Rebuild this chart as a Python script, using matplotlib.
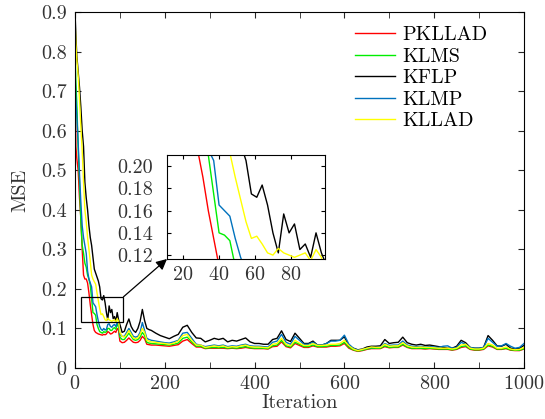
import matplotlib
matplotlib.use("Agg")
import matplotlib.pyplot as plt
from matplotlib.patches import Rectangle
from matplotlib.ticker import FixedLocator, FixedFormatter, MultipleLocator

plt.rcParams['font.family'] = ['cmr10', 'DejaVu Serif']
plt.rcParams['axes.formatter.use_mathtext'] = True
plt.rcParams['mathtext.fontset'] = 'cm'

iters = [0, 2, 4, 7, 10, 13, 16, 19, 22, 25, 28, 31, 34, 37, 40, 43, 46, 49, 52, 55,
         58, 61, 64, 67, 70, 73, 76, 79, 82, 85, 88, 91, 94, 97, 100, 105, 110, 115, 120, 125,
         130, 135, 140, 145, 150, 155, 160, 165, 170, 180, 190, 200, 210, 220, 230, 240, 250, 260, 270, 280,
         290, 300, 310, 320, 330, 340, 350, 360, 370, 380, 390, 400, 410, 420, 430, 440, 450, 460, 470, 480,
         490, 500, 510, 520, 530, 540, 550, 560, 570, 580, 590, 600, 610, 620, 630, 640, 650, 660, 670, 680,
         690, 700, 710, 720, 730, 740, 750, 760, 770, 780, 790, 800, 810, 820, 830, 840, 850, 860, 870, 880,
         890, 900, 910, 920, 930, 940, 950, 960, 970, 980, 990, 1000]

kflp = [0.90, 0.84, 0.79, 0.75, 0.71, 0.66, 0.60, 0.56, 0.47, 0.43, 0.40, 0.36, 0.33, 0.31, 0.28, 0.25, 0.24, 0.23, 0.22, 0.205,
        0.175, 0.172, 0.183, 0.165, 0.14, 0.122, 0.157, 0.14, 0.148, 0.125, 0.13, 0.118, 0.14, 0.122, 0.11, 0.09, 0.093, 0.11, 0.124, 0.105,
        0.095, 0.09, 0.10, 0.118, 0.148, 0.12, 0.10, 0.097, 0.095, 0.088, 0.082, 0.078, 0.074, 0.08, 0.085, 0.103, 0.108, 0.09, 0.076, 0.075,
        0.066, 0.07, 0.075, 0.072, 0.075, 0.066, 0.07, 0.068, 0.072, 0.076, 0.066, 0.062, 0.062, 0.06, 0.06, 0.072, 0.075, 0.094, 0.072, 0.067,
        0.088, 0.075, 0.062, 0.062, 0.068, 0.058, 0.058, 0.062, 0.07, 0.07, 0.07, 0.079, 0.055, 0.05, 0.046, 0.048, 0.053, 0.055, 0.055, 0.056,
        0.072, 0.062, 0.064, 0.065, 0.078, 0.064, 0.06, 0.058, 0.06, 0.057, 0.058, 0.056, 0.054, 0.052, 0.05, 0.05, 0.055, 0.07, 0.064, 0.052,
        0.05, 0.05, 0.052, 0.082, 0.07, 0.056, 0.055, 0.06, 0.05, 0.048, 0.05, 0.057]

klmp = [0.76, 0.68, 0.64, 0.57, 0.49, 0.42, 0.36, 0.33, 0.31, 0.29, 0.245, 0.225, 0.215, 0.205, 0.165, 0.16, 0.155, 0.135, 0.118, 0.105,
        0.098, 0.095, 0.10, 0.096, 0.098, 0.11, 0.112, 0.105, 0.103, 0.108, 0.11, 0.105, 0.115, 0.11, 0.085, 0.08, 0.08, 0.09, 0.10, 0.09,
        0.08, 0.078, 0.08, 0.09, 0.115, 0.095, 0.075, 0.072, 0.07, 0.068, 0.066, 0.064, 0.063, 0.066, 0.07, 0.088, 0.09, 0.075, 0.06, 0.058,
        0.054, 0.056, 0.058, 0.056, 0.058, 0.054, 0.056, 0.055, 0.058, 0.06, 0.056, 0.055, 0.055, 0.054, 0.053, 0.065, 0.068, 0.085, 0.065, 0.06,
        0.08, 0.07, 0.06, 0.06, 0.065, 0.058, 0.058, 0.062, 0.068, 0.068, 0.07, 0.083, 0.06, 0.05, 0.045, 0.047, 0.05, 0.052, 0.052, 0.053,
        0.062, 0.057, 0.058, 0.058, 0.068, 0.058, 0.055, 0.054, 0.055, 0.053, 0.054, 0.053, 0.052, 0.055, 0.056, 0.05, 0.052, 0.065, 0.06, 0.052,
        0.05, 0.05, 0.052, 0.075, 0.065, 0.055, 0.056, 0.062, 0.055, 0.05, 0.052, 0.062]

kllad = [0.88, 0.82, 0.78, 0.74, 0.68, 0.61, 0.55, 0.47, 0.40, 0.37, 0.33, 0.30, 0.27, 0.235, 0.225, 0.218, 0.212, 0.19, 0.17, 0.15,
         0.135, 0.137, 0.13, 0.122, 0.12, 0.126, 0.122, 0.12, 0.118, 0.12, 0.122, 0.115, 0.125, 0.118, 0.09, 0.08, 0.078, 0.085, 0.095, 0.085,
         0.076, 0.074, 0.076, 0.085, 0.10, 0.09, 0.07, 0.068, 0.066, 0.065, 0.063, 0.062, 0.06, 0.063, 0.068, 0.082, 0.085, 0.07, 0.058, 0.058,
         0.052, 0.054, 0.056, 0.054, 0.056, 0.052, 0.054, 0.053, 0.056, 0.058, 0.054, 0.053, 0.053, 0.052, 0.051, 0.06, 0.062, 0.075, 0.06, 0.056,
         0.07, 0.063, 0.057, 0.057, 0.062, 0.057, 0.057, 0.058, 0.06, 0.06, 0.062, 0.07, 0.056, 0.048, 0.044, 0.047, 0.05, 0.053, 0.052, 0.052,
         0.06, 0.055, 0.056, 0.056, 0.064, 0.056, 0.053, 0.052, 0.053, 0.052, 0.052, 0.051, 0.05, 0.05, 0.05, 0.048, 0.05, 0.058, 0.06, 0.05,
         0.048, 0.048, 0.05, 0.062, 0.058, 0.05, 0.05, 0.053, 0.048, 0.046, 0.047, 0.052]

klms = [0.80, 0.72, 0.67, 0.56, 0.47, 0.37, 0.31, 0.29, 0.265, 0.255, 0.235, 0.225, 0.21, 0.175, 0.14, 0.138, 0.133, 0.11, 0.10, 0.092,
        0.09, 0.088, 0.092, 0.09, 0.092, 0.10, 0.10, 0.095, 0.095, 0.10, 0.102, 0.098, 0.11, 0.105, 0.078, 0.072, 0.072, 0.08, 0.088, 0.08,
        0.072, 0.07, 0.072, 0.078, 0.09, 0.082, 0.065, 0.063, 0.062, 0.061, 0.06, 0.059, 0.058, 0.06, 0.063, 0.075, 0.078, 0.066, 0.055, 0.055,
        0.05, 0.051, 0.052, 0.051, 0.052, 0.05, 0.051, 0.05, 0.052, 0.054, 0.051, 0.05, 0.05, 0.05, 0.049, 0.056, 0.058, 0.07, 0.056, 0.053,
        0.065, 0.06, 0.054, 0.054, 0.058, 0.054, 0.054, 0.055, 0.057, 0.057, 0.058, 0.065, 0.052, 0.046, 0.043, 0.045, 0.048, 0.05, 0.05, 0.05,
        0.056, 0.052, 0.053, 0.053, 0.06, 0.053, 0.05, 0.05, 0.05, 0.049, 0.05, 0.049, 0.048, 0.048, 0.048, 0.046, 0.048, 0.054, 0.056, 0.048,
        0.046, 0.046, 0.048, 0.058, 0.055, 0.048, 0.048, 0.05, 0.046, 0.045, 0.045, 0.049]

pkllad = [0.80, 0.56, 0.53, 0.50, 0.43, 0.38, 0.30, 0.235, 0.225, 0.225, 0.215, 0.19, 0.16, 0.135, 0.11, 0.095, 0.09, 0.088, 0.086, 0.085,
          0.084, 0.083, 0.085, 0.084, 0.086, 0.092, 0.09, 0.086, 0.087, 0.09, 0.093, 0.09, 0.10, 0.095, 0.068, 0.064, 0.065, 0.07, 0.076, 0.07,
          0.065, 0.064, 0.065, 0.07, 0.08, 0.074, 0.06, 0.059, 0.058, 0.058, 0.057, 0.056, 0.055, 0.057, 0.059, 0.068, 0.072, 0.062, 0.053, 0.053,
          0.049, 0.05, 0.05, 0.05, 0.05, 0.049, 0.05, 0.049, 0.05, 0.052, 0.05, 0.049, 0.049, 0.049, 0.048, 0.054, 0.055, 0.066, 0.054, 0.051,
          0.062, 0.057, 0.052, 0.052, 0.056, 0.053, 0.053, 0.053, 0.055, 0.055, 0.056, 0.062, 0.05, 0.045, 0.042, 0.044, 0.047, 0.049, 0.049, 0.049,
          0.054, 0.051, 0.052, 0.052, 0.058, 0.052, 0.049, 0.049, 0.049, 0.048, 0.049, 0.048, 0.047, 0.047, 0.047, 0.045, 0.047, 0.052, 0.054, 0.047,
          0.045, 0.045, 0.047, 0.056, 0.053, 0.047, 0.047, 0.049, 0.045, 0.044, 0.044, 0.048]

labels = ['PKLLAD', 'KLMS', 'KFLP', 'KLMP', 'KLLAD']
series = [pkllad, klms, kflp, klmp, kllad]
colors = ['#ff0000', '#00ee00', '#000000', '#0072bd', '#ffff00']

xticks = [0, 200, 400, 600, 800, 1000]
yticks = [0, 0.1, 0.2, 0.3, 0.4, 0.5, 0.6, 0.7, 0.8, 0.9]
ytick_labels = ['0', '0.1', '0.2', '0.3', '0.4', '0.5', '0.6', '0.7', '0.8', '0.9']
inset_xticks = [20, 40, 60, 80]
inset_yticks = [0.12, 0.14, 0.16, 0.18, 0.20]
inset_ytick_labels = ['0.12', '0.14', '0.16', '0.18', '0.20']

FS = 14.5
fig = plt.figure(figsize=(5.45, 4.19), dpi=100)
ax = fig.add_axes([75/545, 1-368/419, 449/545, 356/419])
for s, lab, c in zip(series, labels, colors):
    ax.plot(iters, s, color=c, lw=1.0, label=lab)
ax.set_xlim(0, 1000)
ax.set_ylim(0, 0.9)
ax.set_xticks(xticks)
ax.xaxis.set_minor_locator(MultipleLocator(100))
ax.yaxis.set_major_locator(FixedLocator(yticks))
ax.yaxis.set_major_formatter(FixedFormatter(ytick_labels))
ax.tick_params(which='both', direction='in', top=True, right=True, labelsize=FS, length=4, colors='#262626', labelcolor='#333333')
ax.tick_params(axis='y', pad=6)
ax.tick_params(axis='x', pad=5)
ax.set_xlabel('Iteration', fontsize=FS, labelpad=1, color='#333333')
ax.set_ylabel('MSE', fontsize=FS, labelpad=8, color='#333333')
for sp in ax.spines.values():
    sp.set_linewidth(0.8)

leg = ax.legend(loc='upper left', bbox_to_anchor=(355/545, 1-26/419), bbox_transform=fig.transFigure,
                frameon=False, fontsize=FS, handlelength=2.0, labelspacing=0.17, handletextpad=0.35,
                borderpad=0, borderaxespad=0)

# zoom rectangle
ax.add_patch(Rectangle((13, 0.117), 95, 0.063, fill=False, edgecolor='k', lw=0.9, zorder=5))

# inset
axin = fig.add_axes([167/545, 1-259/419, 158/545, 104/419])
for s, c in zip(series, colors):
    axin.plot(iters, s, color=c, lw=1.0)
axin.set_xlim(11, 99)
axin.set_ylim(0.1165, 0.21)
axin.set_xticks(inset_xticks)
axin.yaxis.set_major_locator(FixedLocator(inset_yticks))
axin.yaxis.set_major_formatter(FixedFormatter(inset_ytick_labels))
axin.tick_params(direction='in', top=True, right=True, labelsize=FS, length=3, labelcolor='#333333')
axin.tick_params(axis='y', pad=10)
axin.tick_params(axis='x', pad=5)
for sp in axin.spines.values():
    sp.set_linewidth(0.8)

# arrow
ax.annotate('', xy=(167/545, 1-259/419), xycoords='figure fraction',
            xytext=(108, 0.180), textcoords='data',
            arrowprops=dict(arrowstyle='-|>', color='k', lw=0.9, mutation_scale=16, shrinkA=0, shrinkB=0))

fig.savefig('out.png', dpi=100)
